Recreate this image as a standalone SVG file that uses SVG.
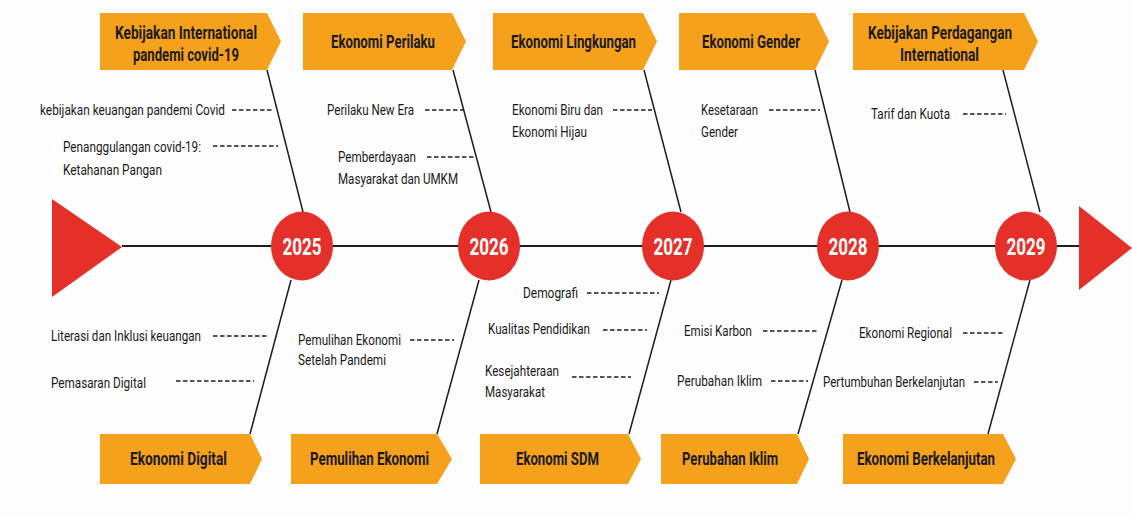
<svg xmlns="http://www.w3.org/2000/svg" width="1132" height="517" viewBox="0 0 1132 517">
<style>
.box{fill:#F6A11C}
.ttl{font-family:Roboto,"Liberation Sans",sans-serif;font-weight:700;font-size:17.5px;fill:#1a1a1a;text-anchor:middle}
.lbl{font-family:Roboto,"Liberation Sans",sans-serif;font-size:14px;fill:#1a1a1a}
.yr{font-family:Roboto,"Liberation Sans",sans-serif;font-weight:700;font-size:24px;fill:#ffffff;text-anchor:middle}
.dot{fill:#E5302A}
.bone{stroke:#1e1e1e;stroke-width:1.5;fill:none}
.dash{stroke:#1e1e1e;stroke-width:1.4;stroke-dasharray:4.5 2.5;fill:none}
</style>
<rect width="1132" height="517" fill="#fdfdfd"/>
<g id="connectors">
<line x1="122" y1="246" x2="1080" y2="246" stroke="#1e1e1e" stroke-width="2"/>
<line class="bone" x1="267" y1="70" x2="303" y2="212"/>
<line class="bone" x1="453" y1="70" x2="491" y2="212"/>
<line class="bone" x1="644" y1="70" x2="681" y2="212"/>
<line class="bone" x1="815" y1="70" x2="850" y2="212"/>
<line class="bone" x1="1003" y1="70" x2="1040" y2="212"/>
<line class="bone" x1="291" y1="280" x2="250" y2="434"/>
<line class="bone" x1="479" y1="280" x2="437" y2="434"/>
<line class="bone" x1="671" y1="280" x2="629" y2="434"/>
<line class="bone" x1="842" y1="280" x2="798" y2="434"/>
<line class="bone" x1="1030" y1="280" x2="988" y2="434"/>
<line class="dash" x1="232" y1="110" x2="274" y2="110"/>
<line class="dash" x1="213" y1="146" x2="278" y2="146"/>
<line class="dash" x1="425" y1="110" x2="463" y2="110"/>
<line class="dash" x1="427" y1="157" x2="474" y2="157"/>
<line class="dash" x1="613" y1="110" x2="652" y2="110"/>
<line class="dash" x1="769" y1="110" x2="820" y2="110"/>
<line class="dash" x1="963" y1="114" x2="1006" y2="114"/>
<line class="dash" x1="587" y1="293" x2="659" y2="293"/>
<line class="dash" x1="603" y1="330" x2="647" y2="330"/>
<line class="dash" x1="572" y1="377" x2="631" y2="377"/>
<line class="dash" x1="213" y1="336" x2="267" y2="336"/>
<line class="dash" x1="176" y1="381" x2="254" y2="381"/>
<line class="dash" x1="410" y1="340" x2="454" y2="340"/>
<line class="dash" x1="763" y1="331" x2="818" y2="331"/>
<line class="dash" x1="771" y1="381" x2="808" y2="381"/>
<line class="dash" x1="963" y1="333" x2="1003" y2="333"/>
<line class="dash" x1="974" y1="382" x2="998" y2="382"/>
</g>
<g id="start"><polygon class="dot" points="52,199 52,297 122,247"/></g>
<g id="end"><polygon class="dot" points="1079,206 1079,290 1132,248"/></g>
<g id="y2025"><ellipse class="dot" cx="302" cy="246" rx="31" ry="34.5"/><text class="yr" x="302" y="254.5" textLength="39" lengthAdjust="spacingAndGlyphs">2025</text></g>
<g id="y2026"><ellipse class="dot" cx="489" cy="246" rx="31" ry="34.5"/><text class="yr" x="489" y="254.5" textLength="39" lengthAdjust="spacingAndGlyphs">2026</text></g>
<g id="y2027"><ellipse class="dot" cx="673" cy="246" rx="31" ry="34.5"/><text class="yr" x="673" y="254.5" textLength="39" lengthAdjust="spacingAndGlyphs">2027</text></g>
<g id="y2028"><ellipse class="dot" cx="848" cy="246" rx="31" ry="34.5"/><text class="yr" x="848" y="254.5" textLength="39" lengthAdjust="spacingAndGlyphs">2028</text></g>
<g id="y2029"><ellipse class="dot" cx="1026" cy="246" rx="31" ry="34.5"/><text class="yr" x="1026" y="254.5" textLength="39" lengthAdjust="spacingAndGlyphs">2029</text></g>
<g id="top1"><path class="box" d="M100,13H267L281,41.5L267,70H100Z"/><text class="ttl" x="186" y="39" textLength="142" lengthAdjust="spacingAndGlyphs">Kebijakan International</text><text class="ttl" x="186" y="61" textLength="106" lengthAdjust="spacingAndGlyphs">pandemi covid-19</text></g>
<g id="top2"><path class="box" d="M303,13H452L466,41.5L452,70H303Z"/><text class="ttl" x="383" y="48" textLength="104" lengthAdjust="spacingAndGlyphs">Ekonomi Perilaku</text></g>
<g id="top3"><path class="box" d="M493,13H643L657,41.5L643,70H493Z"/><text class="ttl" x="573.5" y="48" textLength="125" lengthAdjust="spacingAndGlyphs">Ekonomi Lingkungan</text></g>
<g id="top4"><path class="box" d="M679,13H815L829,41.5L815,70H679Z"/><text class="ttl" x="751" y="48" textLength="98" lengthAdjust="spacingAndGlyphs">Ekonomi Gender</text></g>
<g id="top5"><path class="box" d="M853,13H1024L1038,41.5L1024,70H853Z"/><text class="ttl" x="940" y="39" textLength="144" lengthAdjust="spacingAndGlyphs">Kebijakan Perdagangan</text><text class="ttl" x="939.5" y="61" textLength="79" lengthAdjust="spacingAndGlyphs">International</text></g>
<g id="bot1"><path class="box" d="M100,434H250L262,459L250,484H100Z"/><text class="ttl" x="178.5" y="465" textLength="97" lengthAdjust="spacingAndGlyphs">Ekonomi Digital</text></g>
<g id="bot2"><path class="box" d="M291,434H437L452,459L437,484H291Z"/><text class="ttl" x="369.5" y="465" textLength="119" lengthAdjust="spacingAndGlyphs">Pemulihan Ekonomi</text></g>
<g id="bot3"><path class="box" d="M480,434H628L641,459L628,484H480Z"/><text class="ttl" x="557.5" y="465" textLength="83" lengthAdjust="spacingAndGlyphs">Ekonomi SDM</text></g>
<g id="bot4"><path class="box" d="M661,434H797L809,459L797,484H661Z"/><text class="ttl" x="730" y="465" textLength="96" lengthAdjust="spacingAndGlyphs">Perubahan Iklim</text></g>
<g id="bot5"><path class="box" d="M843,434H1003L1016,459L1003,484H843Z"/><text class="ttl" x="926" y="465" textLength="138" lengthAdjust="spacingAndGlyphs">Ekonomi Berkelanjutan</text></g>
<g id="labels">
<text class="lbl" x="40" y="115" textLength="185" lengthAdjust="spacingAndGlyphs">kebijakan keuangan pandemi Covid</text>
<text class="lbl" x="63" y="152" textLength="138" lengthAdjust="spacingAndGlyphs">Penanggulangan covid-19:</text>
<text class="lbl" x="63" y="175" textLength="99" lengthAdjust="spacingAndGlyphs">Ketahanan Pangan</text>
<text class="lbl" x="327" y="115" textLength="87" lengthAdjust="spacingAndGlyphs">Perilaku New Era</text>
<text class="lbl" x="338" y="162" textLength="78" lengthAdjust="spacingAndGlyphs">Pemberdayaan</text>
<text class="lbl" x="338" y="184" textLength="120" lengthAdjust="spacingAndGlyphs">Masyarakat dan UMKM</text>
<text class="lbl" x="512" y="115" textLength="91" lengthAdjust="spacingAndGlyphs">Ekonomi Biru dan</text>
<text class="lbl" x="512" y="137" textLength="75" lengthAdjust="spacingAndGlyphs">Ekonomi Hijau</text>
<text class="lbl" x="701" y="115" textLength="57" lengthAdjust="spacingAndGlyphs">Kesetaraan</text>
<text class="lbl" x="701" y="137" textLength="37" lengthAdjust="spacingAndGlyphs">Gender</text>
<text class="lbl" x="871" y="119" textLength="79" lengthAdjust="spacingAndGlyphs">Tarif dan Kuota</text>
<text class="lbl" x="523" y="298" textLength="55" lengthAdjust="spacingAndGlyphs">Demografi</text>
<text class="lbl" x="488" y="334" textLength="102" lengthAdjust="spacingAndGlyphs">Kualitas Pendidikan</text>
<text class="lbl" x="485" y="376" textLength="74" lengthAdjust="spacingAndGlyphs">Kesejahteraan</text>
<text class="lbl" x="485" y="397" textLength="60" lengthAdjust="spacingAndGlyphs">Masyarakat</text>
<text class="lbl" x="51" y="341" textLength="150" lengthAdjust="spacingAndGlyphs">Literasi dan Inklusi keuangan</text>
<text class="lbl" x="51" y="388" textLength="95" lengthAdjust="spacingAndGlyphs">Pemasaran Digital</text>
<text class="lbl" x="298" y="345" textLength="103" lengthAdjust="spacingAndGlyphs">Pemulihan Ekonomi</text>
<text class="lbl" x="298" y="365" textLength="88" lengthAdjust="spacingAndGlyphs">Setelah Pandemi</text>
<text class="lbl" x="684" y="336" textLength="68" lengthAdjust="spacingAndGlyphs">Emisi Karbon</text>
<text class="lbl" x="677" y="386" textLength="85" lengthAdjust="spacingAndGlyphs">Perubahan Iklim</text>
<text class="lbl" x="859" y="338" textLength="93" lengthAdjust="spacingAndGlyphs">Ekonomi Regional</text>
<text class="lbl" x="823" y="387" textLength="142" lengthAdjust="spacingAndGlyphs">Pertumbuhan Berkelanjutan</text>
</g>
</svg>
